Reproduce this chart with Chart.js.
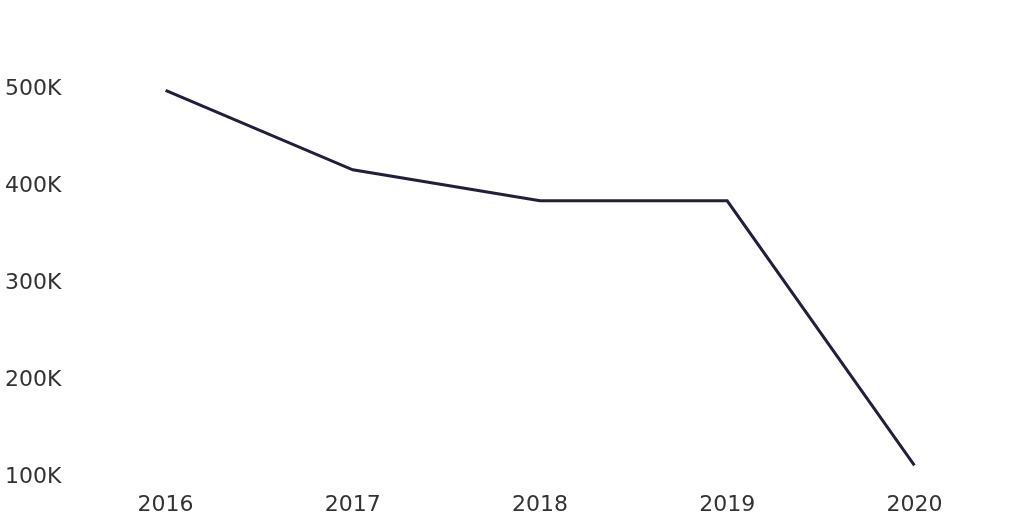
<!DOCTYPE html>
<html>
<head>
<meta charset="utf-8">
<script src="https://cdn.jsdelivr.net/npm/chart.js@4/dist/chart.umd.min.js"></script>
<style>
  html, body { margin: 0; padding: 0; background: #fff; overflow: hidden; }
  #wrap { width: 1024px; height: 530px; position: relative; }
</style>
</head>
<body>
<div id="wrap"><canvas id="lineChart"></canvas></div>
<script>
const years = ['2016', '2017', '2018', '2019', '2020'];
const values = [499000, 417000, 385000, 385000, 112000];
const yTicks = [100000, 200000, 300000, 400000, 500000];

const ctx = document.getElementById('lineChart').getContext('2d');
new Chart(ctx, {
    type: 'line',
    data: {
        labels: years,
        datasets: [{
            data: values,
            borderColor: '#231e3c',
            borderWidth: 3,
            pointRadius: 0,
            fill: false,
            tension: 0
        }]
    },
    options: {
        responsive: true,
        maintainAspectRatio: false,
        animation: false,
        layout: {
            padding: { top: 41, left: 5, right: 16, bottom: 6 }
        },
        plugins: {
            legend: { display: false },
            tooltip: { enabled: false }
        },
        scales: {
            x: {
                offset: true,
                grid: { display: false, drawTicks: false },
                border: { display: false },
                ticks: {
                    color: '#333333',
                    padding: 6,
                    maxRotation: 0,
                    font: { family: 'DejaVu Sans', size: 22 }
                }
            },
            y: {
                min: 91000,
                max: 550000,
                grid: { display: false, drawTicks: false },
                border: { display: false },
                afterBuildTicks: function (axis) {
                    axis.ticks = yTicks.map(function (v) { return { value: v }; });
                },
                afterFit: function (axis) {
                    axis.width = 67;
                },
                ticks: {
                    color: '#333333',
                    padding: 8,
                    crossAlign: 'far',
                    font: { family: 'DejaVu Sans', size: 22 },
                    callback: function (v) { return (v / 1000) + 'K'; }
                }
            }
        }
    }
});
</script>
</body>
</html>
